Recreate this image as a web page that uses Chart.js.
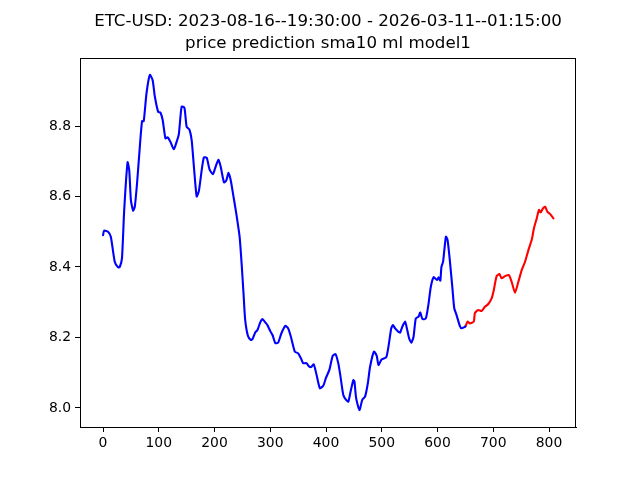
<!DOCTYPE html>
<html>
<head>
<meta charset="utf-8">
<script src="https://cdn.jsdelivr.net/npm/chart.js@4"></script>
<style>
  html, body { margin: 0; padding: 0; background: #fff; }
  #wrap { width: 640px; height: 480px; }
</style>
</head>
<body>
<div id="wrap"><canvas id="myChart" width="640" height="480"></canvas></div>
<script>
// data
const titleLines = ["ETC-USD: 2023-08-16--19:30:00 - 2026-03-11--01:15:00", "price prediction sma10 ml model1"];

const blueX = [0, 2, 9, 14, 21, 27, 30, 34, 38, 44, 47, 50, 54, 57, 61, 66, 70, 73, 78, 84, 89, 93, 99, 103, 107, 112, 116, 121, 127, 132, 136, 141, 146, 150, 155, 159, 163, 168, 172, 177, 181, 186, 191, 197, 201, 207, 211, 217, 221, 225, 229, 234, 239, 245, 249, 252, 255, 260, 265, 268, 273, 277, 282, 286, 291, 295, 300, 304, 309, 314, 320, 327, 332, 337, 344, 350, 355, 359, 365, 370, 374, 378, 383, 389, 395, 400, 406, 412, 417, 422, 426, 431, 436, 440, 444, 449, 451, 454, 460, 465, 470, 475, 479, 486, 491, 494, 500, 508, 512, 517, 520, 524, 530, 533, 537, 542, 545, 549, 553, 557, 561, 566, 569, 573, 579, 584, 588, 593, 599, 602, 605, 607, 610, 615, 618, 622, 627, 630, 634, 640, 643, 650];
const blueY = [8.49, 8.503, 8.50, 8.486, 8.415, 8.399, 8.40, 8.425, 8.562, 8.697, 8.675, 8.59, 8.56, 8.571, 8.637, 8.741, 8.814, 8.814, 8.893, 8.945, 8.93, 8.883, 8.84, 8.838, 8.817, 8.765, 8.768, 8.755, 8.734, 8.755, 8.777, 8.855, 8.852, 8.798, 8.79, 8.76, 8.685, 8.60, 8.616, 8.675, 8.711, 8.71, 8.677, 8.663, 8.68, 8.704, 8.685, 8.64, 8.645, 8.667, 8.647, 8.60, 8.552, 8.486, 8.40, 8.325, 8.25, 8.204, 8.193, 8.195, 8.214, 8.221, 8.243, 8.252, 8.243, 8.235, 8.218, 8.207, 8.184, 8.185, 8.212, 8.233, 8.226, 8.202, 8.16, 8.155, 8.141, 8.127, 8.127, 8.117, 8.117, 8.124, 8.094, 8.056, 8.063, 8.086, 8.108, 8.148, 8.153, 8.127, 8.089, 8.037, 8.023, 8.018, 8.046, 8.079, 8.075, 8.028, 7.994, 8.023, 8.032, 8.07, 8.117, 8.16, 8.148, 8.122, 8.138, 8.144, 8.174, 8.226, 8.235, 8.226, 8.216, 8.214, 8.231, 8.245, 8.226, 8.198, 8.185, 8.202, 8.254, 8.259, 8.271, 8.252, 8.254, 8.297, 8.344, 8.371, 8.363, 8.371, 8.361, 8.40, 8.415, 8.486, 8.477, 8.42, 8.335, 8.283, 8.264, 8.233, 8.226, 8.231];

const redX = [650, 654, 658, 665, 667, 673, 679, 685, 691, 697, 701, 706, 711, 715, 721, 728, 733, 739, 745, 751, 757, 763, 769, 773, 778, 782, 785, 789, 793, 797, 802, 808];
const redY = [8.231, 8.245, 8.24, 8.245, 8.269, 8.278, 8.275, 8.287, 8.295, 8.311, 8.335, 8.374, 8.38, 8.368, 8.374, 8.377, 8.358, 8.327, 8.358, 8.391, 8.415, 8.448, 8.477, 8.51, 8.538, 8.562, 8.555, 8.566, 8.571, 8.557, 8.55, 8.538];

const xTicks = [0, 100, 200, 300, 400, 500, 600, 700, 800];
const yTicks = [8.0, 8.2, 8.4, 8.6, 8.8];

const toPoints = (xs, ys) => xs.map((x, i) => ({ x: x, y: ys[i] }));

// frame on all four sides + two line title, matplotlib style
const framePlugin = {
  id: "frame",
  afterDraw(chart) {
    const { ctx, chartArea } = chart;
    ctx.save();
    ctx.strokeStyle = "#000";
    ctx.lineWidth = 1;
    ctx.strokeRect(chartArea.left + 0.5, chartArea.top + 0.5,
      chartArea.right - chartArea.left - 1, chartArea.bottom - chartArea.top);
    ctx.fillStyle = "#000";
    ctx.font = "16.67px 'DejaVu Sans'";
    ctx.textAlign = "center";
    ctx.textBaseline = "middle";
    const cx = (chartArea.left + chartArea.right) / 2;
    ctx.fillText(titleLines[0], cx, 22);
    ctx.fillText(titleLines[1], cx, 44);
    ctx.restore();
  },
};

const tickFont = { size: 13.9, family: "'DejaVu Sans'" };

const lineStyle = {
  borderWidth: 2.1,
  pointRadius: 0,
  tension: 0.2,
  borderJoinStyle: "round",
  borderCapStyle: "round",
};

new Chart(document.getElementById("myChart"), {
  type: "line",
  data: {
    datasets: [
      { data: toPoints(blueX, blueY), borderColor: "#0000ff", ...lineStyle },
      { data: toPoints(redX, redY), borderColor: "#ff0000", ...lineStyle },
    ],
  },
  options: {
    responsive: false,
    animation: false,
    layout: { padding: { top: 58, right: 64, left: 0, bottom: 0 } },
    scales: {
      x: {
        type: "linear",
        min: -41.3,
        max: 848.4,
        afterBuildTicks: (scale) => {
          scale.ticks = xTicks.map((v) => ({ value: v }));
        },
        afterFit: (scale) => {
          scale.height = 53;
        },
        grid: { drawOnChartArea: false, drawTicks: true, tickLength: 5, tickColor: "#000" },
        border: { display: true, color: "#000" },
        ticks: {
          color: "#000",
          font: tickFont,
          padding: 3,
          maxRotation: 0,
          callback: (v) => String(v),
        },
      },
      y: {
        min: 7.946,
        max: 8.993,
        afterBuildTicks: (scale) => {
          scale.ticks = yTicks.map((v) => ({ value: v }));
        },
        afterFit: (scale) => {
          scale.width = 80;
        },
        grid: { drawOnChartArea: false, drawTicks: true, tickLength: 5, tickColor: "#000" },
        border: { display: true, color: "#000" },
        ticks: {
          color: "#000",
          font: tickFont,
          padding: 4,
          callback: (v) => v.toFixed(1),
        },
      },
    },
    plugins: {
      legend: { display: false },
      tooltip: { enabled: false },
      title: { display: false },
    },
  },
  plugins: [framePlugin],
});
</script>
</body>
</html>
